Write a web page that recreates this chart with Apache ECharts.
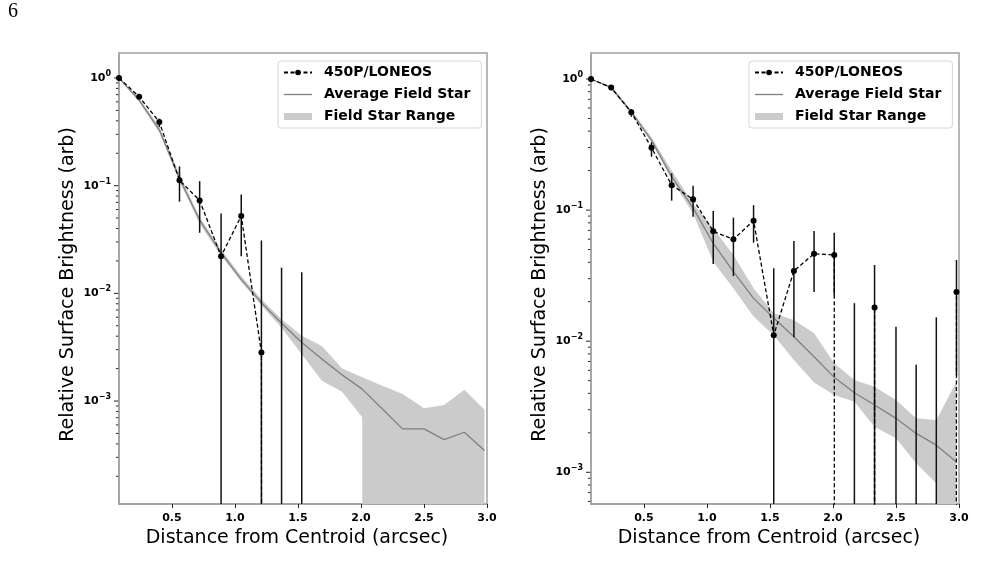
<!DOCTYPE html>
<html>
<head>
<meta charset="utf-8">
<script src="https://cdn.jsdelivr.net/npm/echarts@6/dist/echarts.min.js"></script>
<style>
html, body { margin: 0; padding: 0; background: #fff; }
#main { width: 992px; height: 578px; }
</style>
</head>
<body>
<div id="main"></div>
<script>
// radial distance of each annulus (arcsec)
let dist = [0.08, 0.24, 0.40, 0.56, 0.72, 0.89, 1.05, 1.21, 1.37, 1.53, 1.69, 1.85, 2.01, 2.17, 2.33, 2.50, 2.66, 2.82, 2.98];

// left panel -- null means non-positive (clipped on the log axis)
let leftComet = [1.0, 0.67, 0.39, 0.112, 0.073, 0.0221, 0.0524, 0.00282, null, null];
let leftErrLo = [null, 0.64, 0.35, 0.071, 0.0365, null, 0.0221, null, null, null];
let leftErrHi = [null, 0.70, 0.42, 0.151, 0.110, 0.0551, 0.0826, 0.031, 0.0173, 0.0157];
let leftAvg = [1.0, 0.62, 0.33, 0.116, 0.048, 0.0238, 0.0135, 0.0082, 0.00527, 0.00349, 0.00245, 0.00175, 0.00129, 0.000844, 0.000551, 0.000551, 0.000438, 0.000513, 0.000347];
let leftBandHi = [1.0, 0.66, 0.35, 0.128, 0.051, 0.0255, 0.0145, 0.0088, 0.00575, 0.00403, 0.00325, 0.00201, 0.00166, 0.00139, 0.00116, 0.000856, 0.000918, 0.00127, 0.000832];
let leftBandLo = [1.0, 0.60, 0.31, 0.110, 0.044, 0.0225, 0.0128, 0.0077, 0.0048, 0.00272, 0.00154, 0.00122, 0.000706, null, null, null, null, null, null];

// right panel
let rightComet = [1.0, 0.86, 0.557, 0.299, 0.155, 0.121, 0.0688, 0.0598, 0.083, 0.0111, 0.0343, 0.0465, 0.0454, null, 0.0181, null, null, null, 0.0237];
let rightErrLo = [null, 0.82, 0.515, 0.255, 0.118, 0.089, 0.0388, 0.0314, 0.0564, null, 0.0107, 0.0237, 0.0225, null, null, null, null, null, 0.0055];
let rightErrHi = [null, 0.90, 0.587, 0.329, 0.191, 0.153, 0.0984, 0.0875, 0.109, 0.036, 0.058, 0.0693, 0.0673, 0.0195, 0.0381, 0.0129, 0.00662, 0.0152, 0.0416];
let rightAvg = [1.0, 0.86, 0.56, 0.34, 0.18, 0.104, 0.0557, 0.0339, 0.0212, 0.0150, 0.0108, 0.0076, 0.0053, 0.00404, 0.00326, 0.00258, 0.00198, 0.00161, 0.0012];
let rightBandHi = [1.0, 0.88, 0.58, 0.36, 0.20, 0.112, 0.0726, 0.0454, 0.0253, 0.0163, 0.0145, 0.0115, 0.00678, 0.00506, 0.0045, 0.00356, 0.00258, 0.0025, 0.0049];
let rightBandLo = [1.0, 0.84, 0.54, 0.33, 0.17, 0.094, 0.0404, 0.0253, 0.0154, 0.0111, 0.0072, 0.00483, 0.00389, 0.00345, 0.00223, 0.00182, 0.00117, 0.00082, null];

// log-axis tick marks: mantissa x 10^decade
let tickDecades = [-4, -3, -2, -1, 0];
let tickMantissas = [1, 2, 3, 4, 5, 6, 7, 8, 9];

let X_MIN = 0.08;
let X_MAX = 3.0;
let TINY = 1e-300; // matplotlib style clip of non-positive values

let FONT = 'DejaVu Sans';
let AXIS_GRAY = '#a0a0a0';

let panels = [
  { left: 119, yMin: 1.106e-4, yMax: 1.706, comet: leftComet, errLo: leftErrLo, errHi: leftErrHi,
    avg: leftAvg, bandHi: leftBandHi, bandLo: leftBandLo, legendLeft: 278 },
  { left: 591, yMin: 5.73e-4, yMax: 1.578, comet: rightComet, errLo: rightErrLo, errHi: rightErrHi,
    avg: rightAvg, bandHi: rightBandHi, bandLo: rightBandLo, legendLeft: 749 }
];

function powLabel(v) {
  let n = Math.round(Math.log10(v));
  return '{b|10}{s|' + String(n).replace('-', '\u2212') + '}';
}

function clipv(v) {
  return v == null ? TINY : v;
}

function rectOf(cs) {
  return { type: 'rect', shape: { x: cs.x, y: cs.y, width: cs.width, height: cs.height } };
}

let grid = [], xAxis = [], yAxis = [], series = [], legend = [];

panels.forEach((p, i) => {
  grid.push({
    left: p.left, top: 53, width: 368, height: 451,
    show: true, borderColor: AXIS_GRAY, borderWidth: 1.5, backgroundColor: 'transparent'
  });
  xAxis.push({
    type: 'value', gridIndex: i, min: X_MIN, max: X_MAX, splitNumber: 6,
    name: 'Distance from Centroid (arcsec)', nameLocation: 'middle', nameGap: 21,
    nameTextStyle: { fontFamily: FONT, fontSize: 19, color: '#000', padding: [0, 12, 0, 0] },
    axisLine: { show: true, lineStyle: { color: AXIS_GRAY, width: 1.5 } },
    axisTick: { show: true, length: 4, lineStyle: { color: '#222', width: 1 } },
    axisLabel: { showMinLabel: false, fontFamily: FONT, fontWeight: 'bold', fontSize: 11, color: '#000', margin: 9,
      formatter: v => v.toFixed(1) },
    splitLine: { show: false }
  });
  yAxis.push({
    type: 'log', logBase: 10, gridIndex: i, min: p.yMin, max: p.yMax,
    name: 'Relative Surface Brightness (arb)', nameLocation: 'middle', nameGap: 41,
    nameTextStyle: { fontFamily: FONT, fontSize: 19, color: '#000', padding: [0, 12, 0, 0] },
    axisLine: { show: true, lineStyle: { color: AXIS_GRAY, width: 1.5 } },
    axisTick: { show: false },
    axisLabel: {
      showMinLabel: false, showMaxLabel: false, margin: 8, formatter: powLabel,
      rich: {
        b: { fontFamily: FONT, fontWeight: 'bold', fontSize: 11, color: '#000' },
        s: { fontFamily: FONT, fontWeight: 'bold', fontSize: 8, color: '#000', padding: [0, 0, 8, 0] }
      }
    },
    splitLine: { show: false }
  });

  // field star range band
  series.push({
    name: 'Field Star Range', type: 'custom', xAxisIndex: i, yAxisIndex: i, silent: true, z: 1,
    itemStyle: { color: '#cbcbcb' },
    data: [[dist[0], p.bandHi[0]]],
    renderItem: (params, api) => {
      let pts = [];
      for (let k = 0; k < p.bandHi.length; k++) pts.push(api.coord([dist[k], clipv(p.bandHi[k])]));
      for (let k = p.bandLo.length - 1; k >= 0; k--) pts.push(api.coord([dist[k], clipv(p.bandLo[k])]));
      return { type: 'polygon', shape: { points: pts }, style: { fill: '#cbcbcb' }, clipPath: rectOf(params.coordSys) };
    }
  });

  series.push({
    name: 'Average Field Star', type: 'line', xAxisIndex: i, yAxisIndex: i, z: 2,
    symbol: 'none', lineStyle: { color: '#808080', width: 1.3 }, itemStyle: { color: '#808080' },
    data: p.avg.map((v, k) => [dist[k], v])
  });

  // error bars
  let bars = [];
  p.errHi.forEach((hi, k) => { if (hi != null) bars.push([dist[k], hi, k]); });
  series.push({
    type: 'custom', xAxisIndex: i, yAxisIndex: i, silent: true, z: 3,
    data: bars,
    renderItem: (params, api) => {
      let cs = params.coordSys;
      let k = api.value(2);
      let top = api.coord([api.value(0), api.value(1)]);
      let lo = p.errLo[k];
      let y2 = lo == null ? cs.y + cs.height : api.coord([api.value(0), lo])[1];
      return { type: 'line', shape: { x1: top[0], y1: top[1], x2: top[0], y2: y2 },
        style: { stroke: '#111', lineWidth: 1.5 } };
    }
  });

  series.push({
    name: '450P/LONEOS', type: 'line', xAxisIndex: i, yAxisIndex: i, z: 4,
    symbol: 'circle', symbolSize: 6, showAllSymbol: true, clip: true,
    lineStyle: { color: '#000', width: 1.3, type: [4, 2.5] }, itemStyle: { color: '#000' },
    data: p.comet.map((v, k) => [dist[k], clipv(v)])
  });

  // log tick marks on the y axis
  let ticks = [];
  tickDecades.forEach(d => tickMantissas.forEach(m => ticks.push([X_MIN, m * Math.pow(10, d), m])));
  series.push({
    type: 'custom', xAxisIndex: i, yAxisIndex: i, silent: true, z: 5,
    data: ticks,
    renderItem: (params, api) => {
      let cs = params.coordSys;
      let y = api.coord([api.value(0), api.value(1)])[1];
      if (y < cs.y - 0.5 || y > cs.y + cs.height + 0.5) return;
      let len = api.value(2) === 1 ? 5 : 3;
      return { type: 'line', shape: { x1: cs.x - len, y1: y, x2: cs.x - 0.7, y2: y },
        style: { stroke: '#222', lineWidth: 1 } };
    }
  });

  legend.push({
    left: p.legendLeft, top: 61, orient: 'vertical',
    padding: [4, 11, 4, 5], itemWidth: 28, itemHeight: 7, itemGap: 7,
    borderColor: '#d6d6d6', borderWidth: 1, borderRadius: 3, backgroundColor: 'rgba(255,255,255,0.85)',
    selectedMode: false,
    textStyle: { fontFamily: FONT, fontWeight: 'bold', fontSize: 14, color: '#000', lineHeight: 15, padding: [0, 0, 0, 7] },
    data: [
      { name: '450P/LONEOS' },
      { name: 'Average Field Star', icon: 'path://M0,0L28,0L28,1.3L0,1.3Z' },
      { name: 'Field Star Range', icon: 'rect' }
    ]
  });
});

let chart = echarts.init(document.getElementById('main'));
chart.setOption({
  animation: false,
  backgroundColor: '#fff',
  grid: grid,
  xAxis: xAxis,
  yAxis: yAxis,
  legend: legend,
  series: series,
  graphic: [{
    type: 'text', left: 8, top: 2,
    style: { text: '6', font: '20px "Liberation Serif"', fill: '#000' }
  }]
});
</script>
</body>
</html>
